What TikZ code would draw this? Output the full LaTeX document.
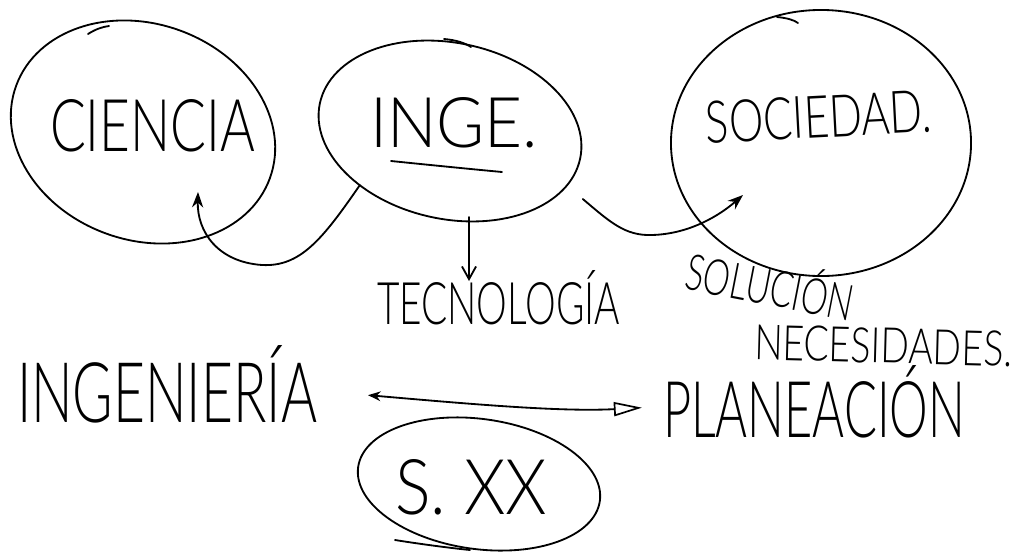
\documentclass[tikz,border=0pt]{standalone}
\usepackage{fontspec}
\IfFontExistsTF{Lato Light}{\newfontfamily\hand{Lato Light}}{\newfontfamily\hand{Lato}}
\usetikzlibrary{shapes.geometric,arrows.meta,calc}
\newdimen\pxu \pxu=0.025cm
\newcommand\hw[3]{\resizebox{#1\pxu}{#2\pxu}{\hand #3}}
\tikzset{
  pen/.style={line width=1.3pt, line cap=round, line join=round, draw=black},
  bubble/.style={pen, ellipse, inner sep=0pt, outer sep=0pt},
  word/.style={inner sep=0pt, outer sep=0pt, anchor=south west},
  arr/.style={pen, -{Stealth[length=11pt,width=8pt]}},
  barb/.style={pen, -{Straight Barb[length=9pt,width=10pt]}},
  dbl/.style={pen, {Stealth[length=9pt,width=7pt]}-{Triangle[open,length=20pt,width=10pt,line width=1.2pt]}}
}
\begin{document}
\begin{tikzpicture}[x=0.025cm,y=-0.025cm]
\useasboundingbox (0,0) rectangle (1018,552);

% bubbles
\node[bubble, minimum width=6.75cm, minimum height=5.4cm, rotate=-20] (cie) at (143,132) {};
\node[bubble, minimum width=6.65cm, minimum height=4.4cm, rotate=-12] (ing) at (450,131) {};
\node[bubble, minimum width=7.5cm, minimum height=6.65cm] (soc) at (821,143) {};
\node[bubble, minimum width=6.1cm, minimum height=3.25cm, rotate=-8] (sxx) at (479,484) {};

% pen overshoots
\draw[pen] (88,34) .. controls (96,29) and (102,27) .. (109,26);
\draw[pen] (444,39) .. controls (456,40) and (465,43) .. (471,47);
\draw[pen] (777,17) .. controls (787,18) and (794,20) .. (798,23);
\draw[pen] (395,540) .. controls (420,544) and (450,548) .. (470,550);

% texts
\node[word] (tcie) at (50,152) {\hw{205}{52}{CIENCIA}};
\node[word] (tinge) at (370,148) {\hw{168}{50}{INGE.}};
\draw[pen] (391,161) .. controls (430,165) and (470,169) .. (502,172);
\node[word, rotate=3] (tsoc) at (707,144) {\hw{226}{42}{SOCIEDAD.}};
\node[word] (ttec) at (377,325) {\hw{243}{54}{TECNOLOGÍA}};
\node[word, rotate=-11] (tsol) at (683,289) {\hw{170}{46}{SOLUCIÓN}};
\node[word, rotate=-1.5] (tnec) at (754,360) {\hw{258}{35}{NECESIDADES.}};
\node[word] (tingr) at (17,423) {\hw{300}{77}{INGENIERÍA}};
\node[word] (tplan) at (663,438) {\hw{302}{72}{PLANEACIÓN}};
\node[word] (tsxx) at (395,515) {\hw{152}{55}{S. XX}};

% connectors
\coordinate (ciein) at (198,192);
\coordinate (socin) at (743,195);
\coordinate (tecin) at (469,281);
\draw[arr] (ing.223) .. controls (322,240) and (300,267) .. (262,265)
  .. controls (218,262) and (197,232) .. (ciein);
\draw[barb] (ing.south -| tecin) -- (tecin);
\draw[arr] ($(ing.-15)+(19,10)$) .. controls (610,222) and (625,236) .. (652,235)
  .. controls (690,234) and (720,215) .. (socin);
\draw[dbl] ($(tingr.east)+(51,11)$) .. controls (470,404) and (560,412) .. ($(tplan.west)+(-21,6)$);
\end{tikzpicture}
\end{document}
